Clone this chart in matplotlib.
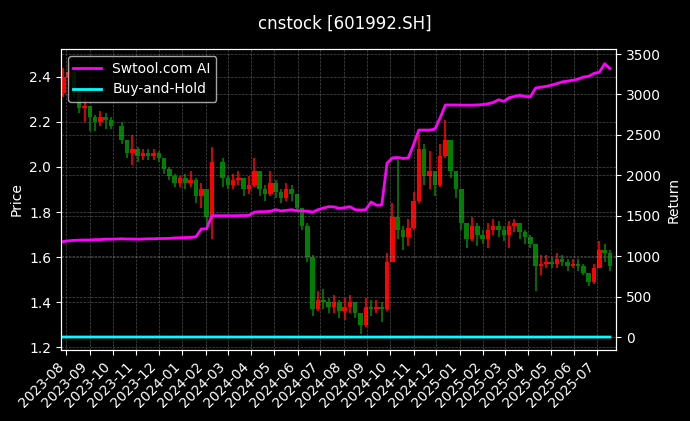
import matplotlib
matplotlib.use("Agg")
import matplotlib.pyplot as plt
import matplotlib.dates as mdates
import numpy as np
import pandas as pd

title = "cnstock [601992.SH]"

# weekly bars (Friday dates), full holiday weeks removed
week_ends = pd.date_range("2023-07-28", "2025-07-18", freq="W-FRI")
holiday_weeks = pd.to_datetime(["2023-10-06", "2024-02-16"])
dates = week_ends.drop(holiday_weeks)

first_open = 2.33
close = [2.40, 2.42, 2.33, 2.26, 2.27, 2.22, 2.20, 2.22, 2.21, 2.18,
         2.12, 2.06, 2.08, 2.05, 2.06, 2.05, 2.06, 2.04, 1.99, 1.96,
         1.93, 1.95, 1.93, 1.94, 1.87, 1.90, 1.78, 2.02, 1.95, 1.92,
         1.94, 1.95, 1.90, 1.92, 1.98, 1.90, 1.88, 1.93, 1.89, 1.86,
         1.90, 1.88, 1.82, 1.74, 1.60, 1.37, 1.41, 1.40, 1.38, 1.40,
         1.36, 1.38, 1.40, 1.35, 1.30, 1.38, 1.37, 1.38, 1.37, 1.58,
         1.78, 1.72, 1.69, 1.73, 1.85, 2.08, 1.96, 1.98, 1.92, 2.05,
         2.12, 1.98, 1.90, 1.75, 1.68, 1.74, 1.70, 1.68, 1.72, 1.74,
         1.72, 1.70, 1.74, 1.75, 1.71, 1.69, 1.66, 1.56, 1.57, 1.58,
         1.57, 1.59, 1.58, 1.56, 1.57, 1.56, 1.53, 1.49, 1.55, 1.63,
         1.62, 1.56]
high = [2.44, 2.46, 2.43, 2.35, 2.31, 2.27, 2.23, 2.25, 2.24, 2.22,
        2.20, 2.12, 2.14, 2.09, 2.08, 2.08, 2.08, 2.07, 2.04, 2.00,
        1.97, 1.96, 1.97, 1.98, 1.95, 1.93, 1.90, 2.09, 2.04, 1.96,
        1.97, 1.98, 1.95, 1.96, 2.04, 1.98, 1.92, 1.98, 1.94, 1.90,
        1.93, 1.92, 1.88, 1.82, 1.75, 1.61, 1.45, 1.46, 1.42, 1.43,
        1.41, 1.42, 1.43, 1.40, 1.35, 1.42, 1.41, 1.41, 1.40, 1.62,
        1.84, 2.03, 1.74, 1.77, 1.89, 2.14, 2.10, 2.07, 1.98, 2.10,
        2.21, 2.12, 1.98, 1.90, 1.75, 1.78, 1.75, 1.72, 1.75, 1.77,
        1.76, 1.74, 1.76, 1.77, 1.75, 1.72, 1.70, 1.66, 1.61, 1.61,
        1.60, 1.62, 1.61, 1.59, 1.59, 1.59, 1.57, 1.53, 1.57, 1.67,
        1.66, 1.63]
low = [2.31, 2.36, 2.31, 2.24, 2.20, 2.16, 2.16, 2.18, 2.17, 2.17,
       2.10, 2.04, 2.01, 2.02, 2.03, 2.03, 2.03, 2.02, 1.97, 1.94,
       1.91, 1.91, 1.90, 1.91, 1.84, 1.82, 1.72, 1.68, 1.91, 1.90,
       1.90, 1.92, 1.87, 1.88, 1.91, 1.87, 1.85, 1.87, 1.86, 1.84,
       1.85, 1.85, 1.80, 1.72, 1.58, 1.34, 1.36, 1.37, 1.35, 1.35,
       1.33, 1.32, 1.35, 1.33, 1.26, 1.29, 1.34, 1.35, 1.31, 1.36,
       1.58, 1.68, 1.63, 1.65, 1.72, 1.84, 1.92, 1.90, 1.87, 1.91,
       2.04, 1.95, 1.86, 1.72, 1.64, 1.67, 1.65, 1.66, 1.64, 1.70,
       1.69, 1.67, 1.64, 1.71, 1.68, 1.66, 1.64, 1.45, 1.52, 1.55,
       1.55, 1.55, 1.56, 1.54, 1.55, 1.54, 1.52, 1.47, 1.48, 1.55,
       1.58, 1.54]
ai_return = [1180, 1190, 1195, 1198, 1200, 1200, 1205, 1205, 1210, 1210,
             1215, 1212, 1212, 1210, 1212, 1215, 1215, 1218, 1218, 1220,
             1225, 1228, 1230, 1232, 1240, 1335, 1340, 1500, 1500, 1500,
             1500, 1502, 1502, 1505, 1545, 1550, 1550, 1555, 1575, 1560,
             1565, 1575, 1562, 1560, 1555, 1545, 1575, 1595, 1612, 1610,
             1590, 1600, 1612, 1575, 1570, 1575, 1670, 1630, 1632, 2150,
             2215, 2220, 2210, 2215, 2380, 2560, 2560, 2560, 2570, 2710,
             2870, 2870, 2870, 2868, 2868, 2868, 2870, 2875, 2885, 2900,
             2935, 2915, 2960, 2975, 2990, 2975, 2970, 3080, 3090, 3100,
             3115, 3135, 3155, 3165, 3175, 3190, 3215, 3225, 3260, 3275,
             3380, 3320]

closes = np.array(close)
opens = np.array([first_open] + close[:-1])
bh_return = closes / closes[0] - 1

plt.style.use("dark_background")
fig, ax = plt.subplots(figsize=(6.9, 4.21), dpi=100)
fig.subplots_adjust(left=0.0884, right=0.8928, top=0.8836, bottom=0.1686)

colors = np.where(closes >= opens, "red", "green")
ax.vlines(dates, low, high, colors=colors, linewidth=1.2)
ax.bar(dates, closes - opens, bottom=opens, width=6, color=colors)
ax.set_ylabel("Price")
ax.set_ylim(1.187, 2.524)
ax.grid(True, linestyle="--", linewidth=0.5, color="gray", alpha=0.6)

ax2 = ax.twinx()
ax2.plot(dates, ai_return, color="magenta", linewidth=2, label="Swtool.com AI")
ax2.plot(dates, bh_return, color="cyan", linewidth=2, label="Buy-and-Hold")
ax2.set_ylabel("Return")
ax2.set_ylim(-161, 3562)
ax2.grid(True, linestyle="--", linewidth=0.5, color="gray", alpha=0.6)
ax2.legend(loc="upper left")

ax.set_xlim(pd.Timestamp("2023-07-25"), pd.Timestamp("2025-07-26"))
ax.xaxis.set_major_locator(mdates.MonthLocator())
ax.xaxis.set_major_formatter(mdates.DateFormatter("%Y-%m"))
plt.setp(ax.get_xticklabels(), rotation=45, ha="right")

fig.suptitle(title, fontsize=12, y=0.965)
fig.savefig("out.png", dpi=100)
